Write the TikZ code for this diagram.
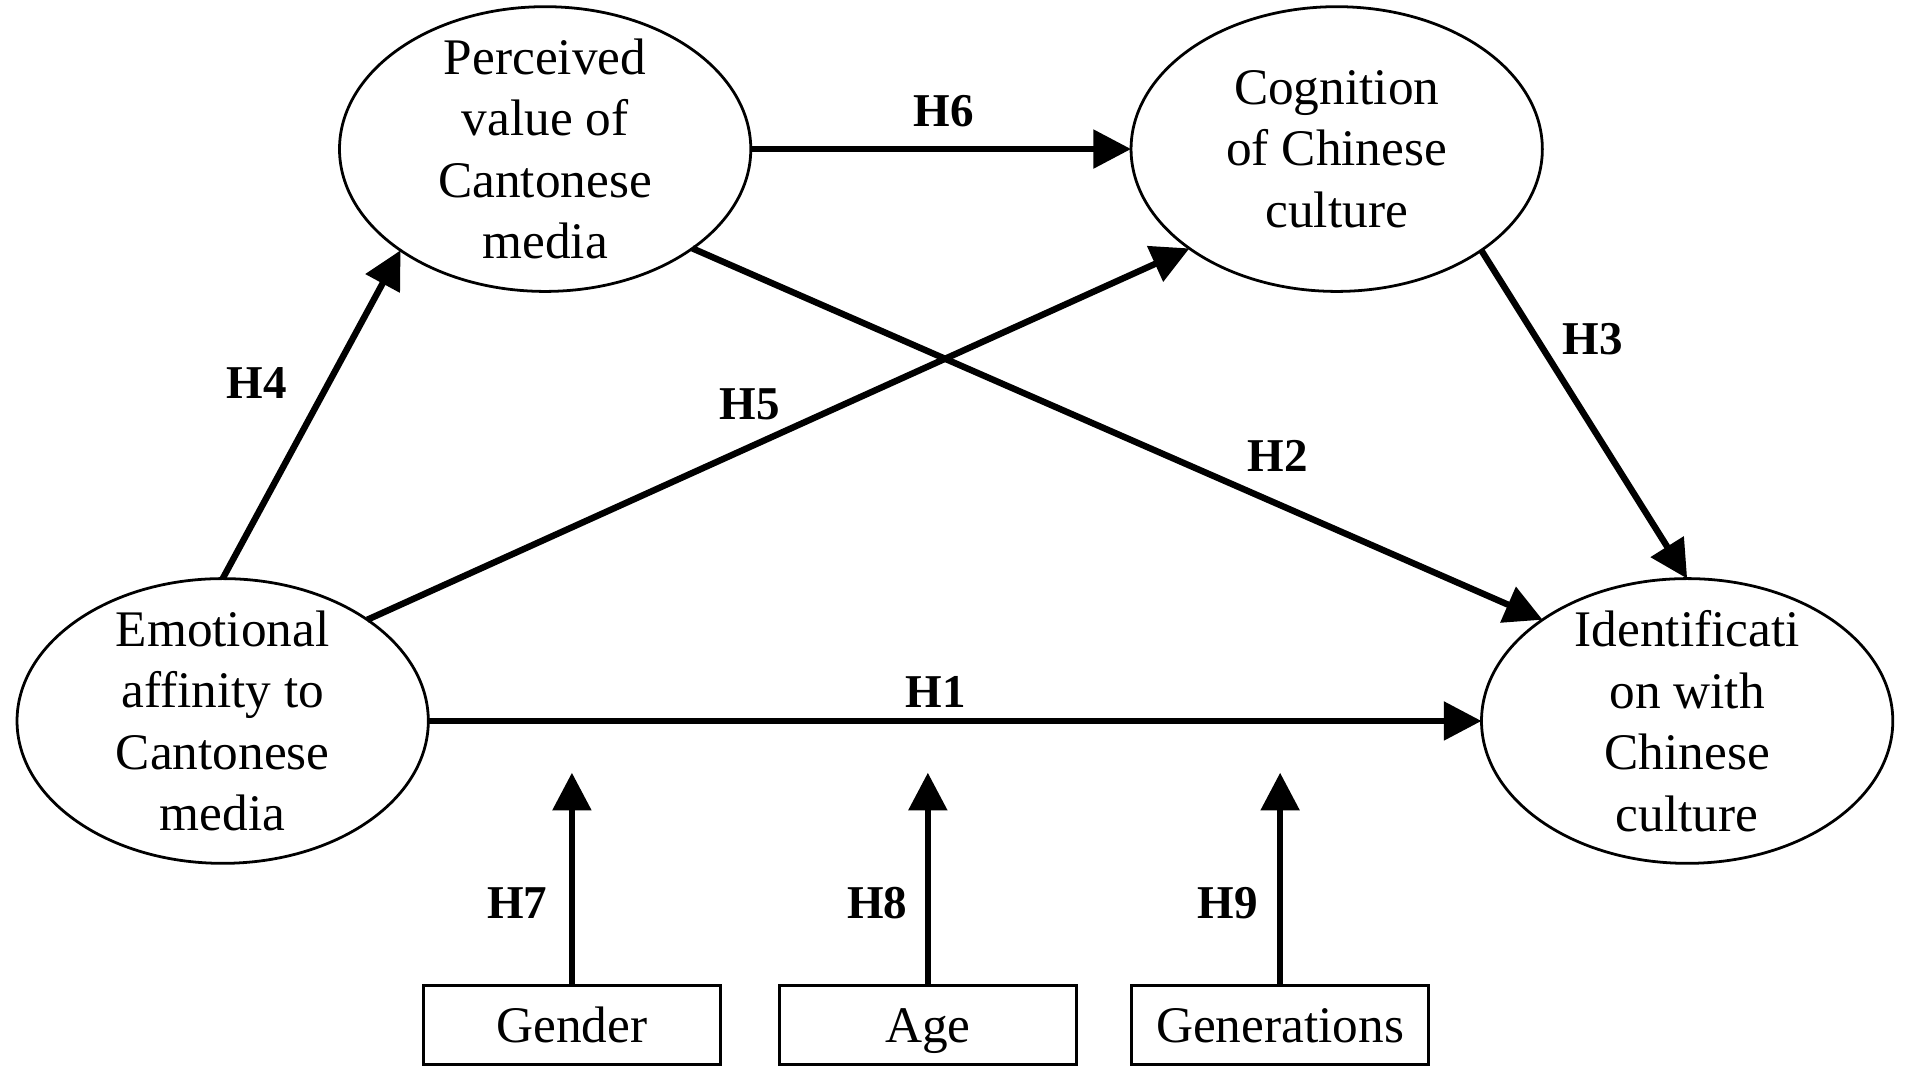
\documentclass[tikz,border=0pt]{standalone}
\usepackage{fontspec}
\setmainfont{Liberation Serif}
\usetikzlibrary{arrows.meta,positioning,shapes.geometric}

\begin{document}
\begin{tikzpicture}[
	latent/.style={draw, ellipse, line width=0.65pt, minimum width=3.38cm, minimum height=2.34cm, inner sep=0pt, outer sep=0pt},
	txt/.style={align=center, font=\fontsize{12}{14.4}\selectfont, inner sep=0pt},
	obs/.style={draw, rectangle, line width=0.8pt, minimum width=2.44cm, minimum height=0.65cm, inner sep=0pt, outer sep=0pt, font=\fontsize{12}{14.4}\selectfont, text height=8.2pt, text depth=0pt},
	hyp/.style={font=\fontsize{11}{13}\selectfont\bfseries, inner sep=0pt},
	link/.style={line width=1.5pt, -{Triangle[length=0.31cm, width=0.31cm]}}]
	\fill[white] (0,0) rectangle (15.68,-8.90);
	% constructs
	\node[latent] (perc) at (4.48,-1.225) {};
	\node[latent] (cogn) at (10.985,-1.225) {};
	\node[latent] (emo) at (1.83,-5.925) {};
	\node[latent] (iden) at (13.865,-5.925) {};
	\node[txt] (perc-t) at (perc) {Perceived\\value of\\Cantonese\\media};
	\node[txt] (cogn-t) at (cogn) {Cognition\\of Chinese\\culture};
	\node[txt] (emo-t) at (emo) {Emotional\\affinity to\\Cantonese\\media};
	\node[txt] (iden-t) at (iden) {Identificati\\on with\\Chinese\\culture};
	% controls
	\node[obs] (gend) at (4.70,-8.425) {Gender};
	\node[obs] (age) at (7.625,-8.425) {Age};
	\node[obs] (gen) at (10.52,-8.425) {Generations};
	\coordinate[above=1.75cm of gend] (gend-t);
	\coordinate[above=1.75cm of age] (age-t);
	\coordinate[above=1.75cm of gen] (gen-t);
	% paths
	\draw[link] (emo.east) -- (iden.west);
	\draw[link] (perc.326) -- (iden.145);
	\draw[link] (cogn.325) -- (iden.north);
	\draw[link] (emo.north) -- (perc.215.6);
	\draw[link] (emo.35) -- (cogn.214);
	\draw[link] (perc.east) -- (cogn.west);
	\draw[link] (gend.north) -- (gend-t);
	\draw[link] (age.north) -- (age-t);
	\draw[link] (gen.north) -- (gen-t);
	% hypotheses
	\node[hyp] (h1) at (7.69,-5.685) {H1};
	\node[hyp] (h2) at (10.50,-3.75) {H2};
	\node[hyp] (h3) at (13.09,-2.79) {H3};
	\node[hyp] (h4) at (2.11,-3.15) {H4};
	\node[hyp] (h5) at (6.16,-3.32) {H5};
	\node[hyp] (h6) at (7.755,-0.916) {H6};
	\node[hyp] (h7) at (4.25,-7.42) {H7};
	\node[hyp] (h8) at (7.21,-7.42) {H8};
	\node[hyp] (h9) at (10.09,-7.42) {H9};
\end{tikzpicture}
\end{document}
